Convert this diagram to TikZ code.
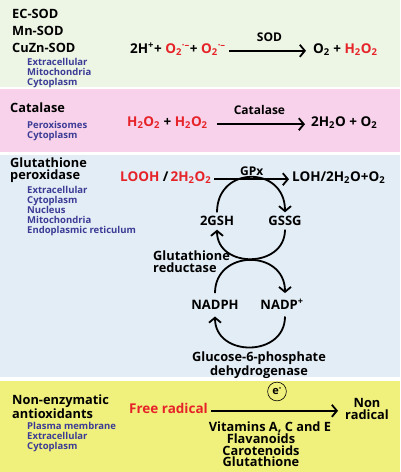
\documentclass[tikz,border=0pt]{standalone}
\usepackage{fontspec}
\setmainfont{Open Sans}
\usetikzlibrary{arrows.meta}
\definecolor{sodbg}{RGB}{237,245,229}
\definecolor{catbg}{RGB}{247,210,234}
\definecolor{gpxbg}{RGB}{227,237,245}
\definecolor{nonbg}{RGB}{240,240,125}
\definecolor{locblue}{RGB}{60,60,150}
\definecolor{radred}{RGB}{230,35,40}
\tikzset{>={Straight Barb[length=5pt,width=12pt]},every node/.style={inner sep=0pt},
  ttl/.style={align=left,font=\fontsize{12.8}{11}\selectfont\bfseries},
  loc/.style={align=left,text=locblue,font=\fontsize{9.5}{10}\selectfont\bfseries},
  eqn/.style={inner xsep=3pt,text height=9pt,text depth=4pt,font=\fontsize{13.5}{14}\selectfont\bfseries},
  lbl/.style={font=\fontsize{12}{12}\selectfont\bfseries},
  rx/.style={line width=1.8pt,->},cycl/.style={line width=1.8pt,->},
  cyc/.style={text height=9pt,text depth=0pt,inner ysep=4pt,font=\fontsize{13}{14}\selectfont\bfseries}}
\newcommand{\Ot}{O\textsubscript{2}}
\newcommand{\HtOt}{H\textsubscript{2}O\textsubscript{2}}
\newcommand{\HtO}{H\textsubscript{2}O}
\newcommand{\Osup}{O\textsubscript{2}\textsuperscript{·–}}
\newcommand{\rd}[1]{\textcolor{radred}{#1}}
\begin{document}
\begin{tikzpicture}[x=1pt,y=-1pt]
\useasboundingbox (0,0) rectangle (400,472);
\fill[white] (0,0) rectangle (400,472);
\fill[sodbg] (0,0) rectangle (400,87);\fill[catbg] (0,89) rectangle (400,152);
\fill[gpxbg] (0,155) rectangle (400,377);\fill[nonbg] (0,381) rectangle (400,472);
% superoxide dismutase
\node[ttl,anchor=north west,font=\fontsize{12.8}{16.7}\selectfont\bfseries] (sodname) at (12,9.3){EC-SOD\\Mn-SOD\\CuZn-SOD};
\node[loc,anchor=north west] (sodloc) at (27,58.2){Extracellular\\Mitochondria\\Cytoplasm};
\node[eqn,anchor=west] (sodin) at (127,50.8){2H\textsuperscript{+}+ \rd{\Osup}+ \rd{\Osup}};
\node[eqn,anchor=west] (sodout) at (310,50.8){\Ot{} + \rd{\HtOt}};
\draw[rx,shorten >=4pt] (sodin) -- node[lbl,above=8pt]{SOD} (sodout);
% catalase
\node[ttl,anchor=base west] (catname) at (10,112.3){Catalase};
\node[loc,anchor=north west] (catloc) at (27,121){Peroxisomes\\Cytoplasm};
\node[eqn,anchor=west] (catin) at (124,124.2){\rd{\HtOt} + \rd{\HtOt}};
\node[eqn,anchor=west] (catout) at (308,124.2){2\HtO{} + \Ot};
\draw[rx,shorten <=6pt,shorten >=3pt] (catin) -- node[lbl,above=9pt]{Catalase} (catout);
% glutathione peroxidase
\node[ttl,anchor=north west,font=\fontsize{12.8}{12}\selectfont\bfseries] (gpxname) at (10,157.8){Glutathione\\peroxidase};
\node[loc,anchor=north west] (gpxloc) at (27,186.5){Extracellular\\Cytoplasm\\Nucleus\\Mitochondria\\Endoplasmic reticulum};
\node[eqn,anchor=west] (gpxin) at (117,179.2){\rd{LOOH} /\,\rd{2\HtOt}};
\node[eqn,anchor=west] (gpxout) at (289,179.2){LOH/2\HtO+\Ot};
\draw[rx] (gpxin) -- node[lbl,above=3pt]{GPx} (gpxout);
\node[cyc] (gsh) at (217,221){2GSH};\node[cyc] (gssg) at (285,221){GSSG};
\draw[cycl] (gsh.north) .. controls +(0,-47) and +(0,-47) .. (gssg.north);
\draw[cycl] (gssg.south) .. controls +(0,39) and +(0,39) .. (gsh.south);
\node[ttl,anchor=north west,font=\fontsize{12.8}{12}\selectfont\bfseries] (grlbl) at (153,251){Glutathione\\reductase};
\node[cyc,inner ysep=7pt] (nadph) at (215,304.8){NADPH};\node[cyc,inner ysep=7pt] (nadpp) at (282,304.8){NADP\textsuperscript{+}};
\draw[cycl] (nadph.north) .. controls +(0,-44) and +(0,-44) .. ([xshift=3pt]nadpp.north);
\draw[cycl] ([xshift=3pt]nadpp.south) .. controls +(0,41) and +(0,41) .. (nadph.south);
\node[ttl,anchor=north,align=center] (gpdlbl) at (259,351.3){Glucose-6-phosphate\\dehydrogenase};
% non-enzymatic antioxidants
\node[ttl,anchor=north west] (nonname) at (12,395){Non-enzymatic\\antioxidants};
\node[loc,anchor=north west] (nonloc) at (27,422.5){Plasma membrane\\Extracellular\\Cytoplasm};
\node[eqn,anchor=west,text=radred] (frin) at (126,410.8){Free radical};
\node[ttl,anchor=north,align=center,font=\fontsize{12.8}{11.5}\selectfont\bfseries] (frout) at (367,398.3){Non\\radical};
\draw[rx,shorten >=7pt] (frin) -- (frin -| frout.west);
\node[draw,circle,line width=.6pt,inner sep=2.6pt,font=\fontsize{11}{11}\selectfont\bfseries] (elec) at (277,391.5){e\textsuperscript{-}};
\node[ttl,anchor=base] (vit) at (270,431.7){Vitamins A, C and E};
\node[ttl,anchor=north,align=center,font=\fontsize{12.8}{11.5}\selectfont\bfseries] (vitlist) at (261,434){Flavanoids\\Carotenoids\\Glutathione};
\end{tikzpicture}
\end{document}
